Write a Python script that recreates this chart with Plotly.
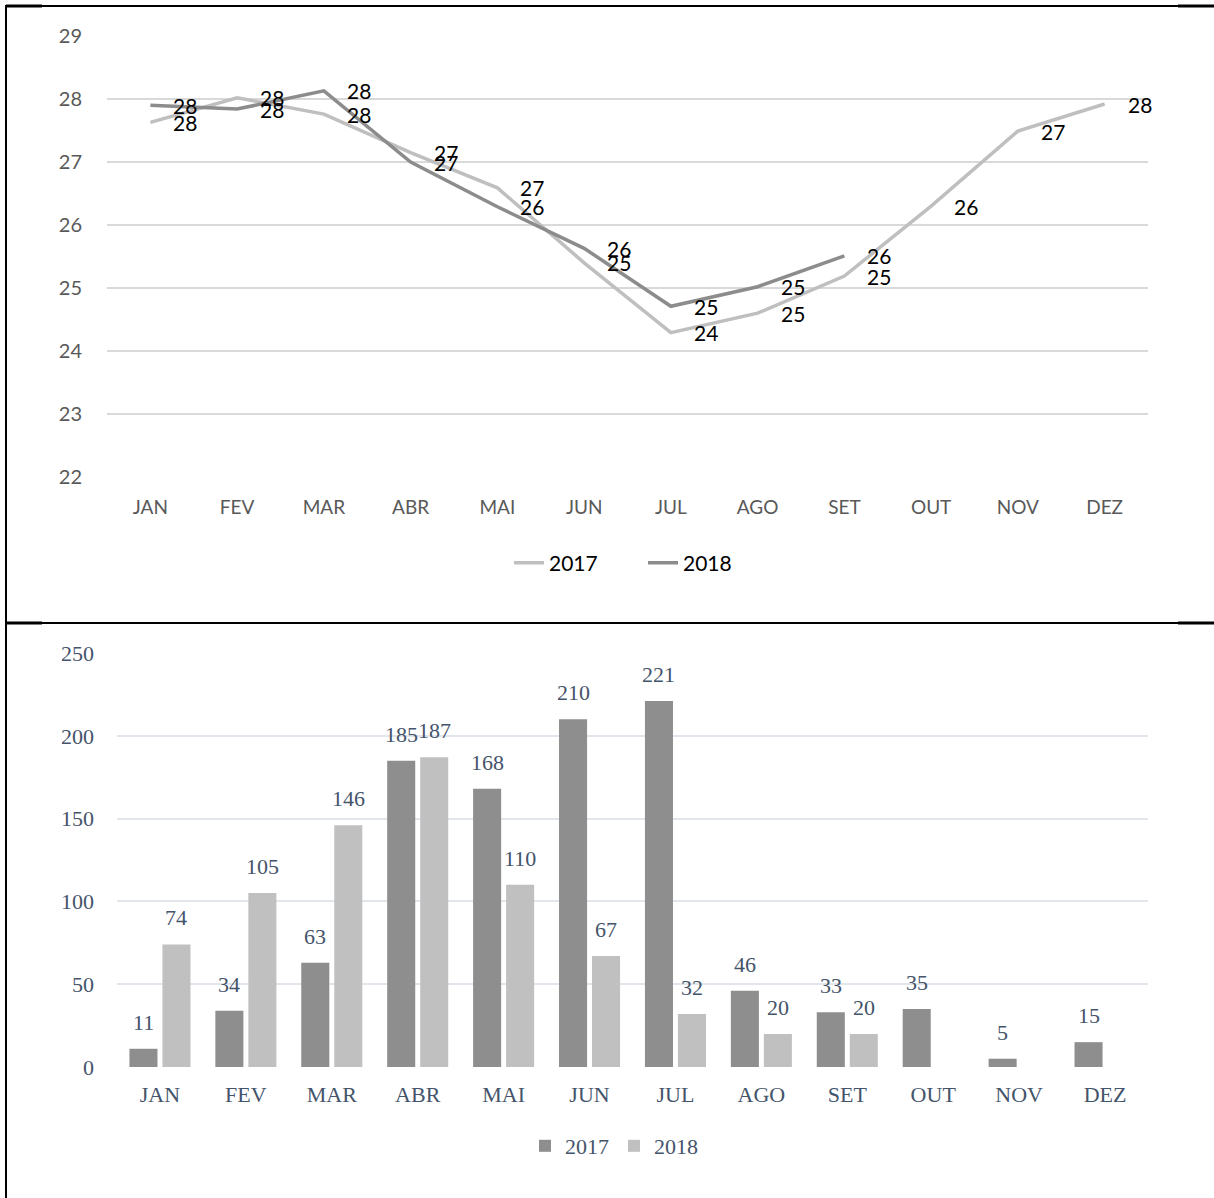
import plotly.graph_objects as go

W, H = 1214, 1198

months = ["JAN", "FEV", "MAR", "ABR", "MAI", "JUN", "JUL", "AGO", "SET", "OUT", "NOV", "DEZ"]

# Top chart: temperature (line)
temp_2017 = [27.63, 28.02, 27.76, 27.15, 26.59, 25.40, 24.29, 24.60, 25.19, 26.30, 27.49, 27.92]
temp_2018 = [27.90, 27.84, 28.13, 27.00, 26.29, 25.63, 24.71, 25.02, 25.51, None, None, None]
temp_ticks = [22, 23, 24, 25, 26, 27, 28, 29]

# Bottom chart: precipitation (bars)
rain_2017 = [11, 34, 63, 185, 168, 210, 221, 46, 33, 35, 5, 15]
rain_2018 = [74, 105, 146, 187, 110, 67, 32, 20, 20, None, None, None]
rain_ticks = [0, 50, 100, 150, 200, 250]

series_names = ["2017", "2018"]


def px_x(p):
    return p / W


def px_y(p):
    return 1 - p / H


LIGHT = "#bfbfbf"
DARK = "#8c8c8c"
BAR17 = "#8e8e8e"
BAR18 = "#c0c0c0"
SANS = "Lato"
SERIF = "Liberation Serif"
SLATE = "#44546a"

fig = go.Figure()

fig.add_trace(go.Scatter(x=months, y=temp_2017, name=series_names[0], mode="lines",
                         line=dict(color=LIGHT, width=3.5), xaxis="x", yaxis="y",
                         legend="legend"))
fig.add_trace(go.Scatter(x=months, y=temp_2018, name=series_names[1], mode="lines",
                         line=dict(color=DARK, width=3.5), xaxis="x", yaxis="y",
                         legend="legend", connectgaps=False))

fig.add_trace(go.Bar(x=months, y=rain_2017, name=series_names[0], marker=dict(color=BAR17, line=dict(width=0)),
                     xaxis="x2", yaxis="y2", legend="legend2"))
fig.add_trace(go.Bar(x=months, y=rain_2018, name=series_names[1], marker=dict(color=BAR18, line=dict(width=0)),
                     xaxis="x2", yaxis="y2", legend="legend2"))

annotations = []
for series in (temp_2017, temp_2018):
    for m, v in zip(months, series):
        if v is None:
            continue
        annotations.append(dict(x=m, y=v, xref="x", yref="y", text=str(int(v + 0.5)),
                                showarrow=False, xanchor="left", yanchor="middle", xshift=21,
                                font=dict(family=SANS, size=21, color="#000000")))

for series, shift in ((rain_2017, -16.5), (rain_2018, 16.5)):
    for m, v in zip(months, series):
        if v is None:
            continue
        annotations.append(dict(x=m, y=v, xref="x2", yref="y2", text=str(v),
                                showarrow=False, xanchor="center", yanchor="bottom",
                                xshift=shift, yshift=12,
                                font=dict(family=SERIF, size=22, color=SLATE)))

# Frame lines (table borders)
shapes = []
for yb in (6, 623):
    shapes.append(dict(type="line", xref="paper", yref="paper", x0=px_x(6), x1=px_x(1178),
                       y0=px_y(yb), y1=px_y(yb), line=dict(color="#000000", width=2)))
    shapes.append(dict(type="line", xref="paper", yref="paper", x0=px_x(6), x1=px_x(42),
                       y0=px_y(yb), y1=px_y(yb), line=dict(color="#000000", width=3)))
    shapes.append(dict(type="line", xref="paper", yref="paper", x0=px_x(1178), x1=px_x(1214),
                       y0=px_y(yb), y1=px_y(yb), line=dict(color="#000000", width=3)))
shapes.append(dict(type="line", xref="paper", yref="paper", x0=px_x(6), x1=px_x(6),
                   y0=px_y(5), y1=px_y(1198), line=dict(color="#000000", width=2)))

fig.update_layout(
    width=W, height=H,
    margin=dict(l=0, r=0, t=0, b=0, pad=0),
    paper_bgcolor="white", plot_bgcolor="white",
    showlegend=True,
    barmode="group", bargap=0.232, bargroupgap=0.15,
    xaxis=dict(domain=[px_x(107), px_x(1148)], anchor="y", type="category",
               categoryorder="array", categoryarray=months, automargin=False,
               range=[-0.5, len(months) - 0.5],
               showgrid=False, zeroline=False, showline=False, ticks="",
               tickfont=dict(family=SANS, size=19, color="#595959"),
               ticklabelstandoff=17),
    yaxis=dict(domain=[px_y(477), px_y(36)], anchor="x", range=[22, 29], automargin=False,
               tickvals=temp_ticks, showgrid=True, gridcolor="#d9d9d9", gridwidth=1.5,
               zeroline=False, showline=False, ticks="",
               tickfont=dict(family=SANS, size=20, color="#595959"),
               ticklabelstandoff=24),
    xaxis2=dict(domain=[px_x(117), px_x(1148)], anchor="y2", type="category",
                categoryorder="array", categoryarray=months, automargin=False,
                range=[-0.5, len(months) - 0.5],
                showgrid=False, zeroline=False, showline=False, ticks="",
                tickfont=dict(family=SERIF, size=22, color=SLATE),
                ticklabelstandoff=12),
    yaxis2=dict(domain=[px_y(1067), px_y(653)], anchor="x2", range=[0, 250], automargin=False,
                tickvals=rain_ticks, showgrid=True, gridcolor="#e1e6ec", gridwidth=2,
                zeroline=False, showline=False, ticks="",
                tickfont=dict(family=SERIF, size=22, color=SLATE),
                ticklabelstandoff=22),
    legend=dict(orientation="h", x=px_x(509), xanchor="left", y=px_y(563), yanchor="middle",
                font=dict(family=SANS, size=21, color="#000000"), bgcolor="rgba(0,0,0,0)",
                entrywidth=89),
    legend2=dict(orientation="h", x=px_x(525), xanchor="left", y=px_y(1146), yanchor="middle",
                 font=dict(family=SERIF, size=22, color=SLATE), bgcolor="rgba(0,0,0,0)",
                 entrywidth=44),
    annotations=annotations,
    shapes=shapes,
)

fig.write_html("out.html")
